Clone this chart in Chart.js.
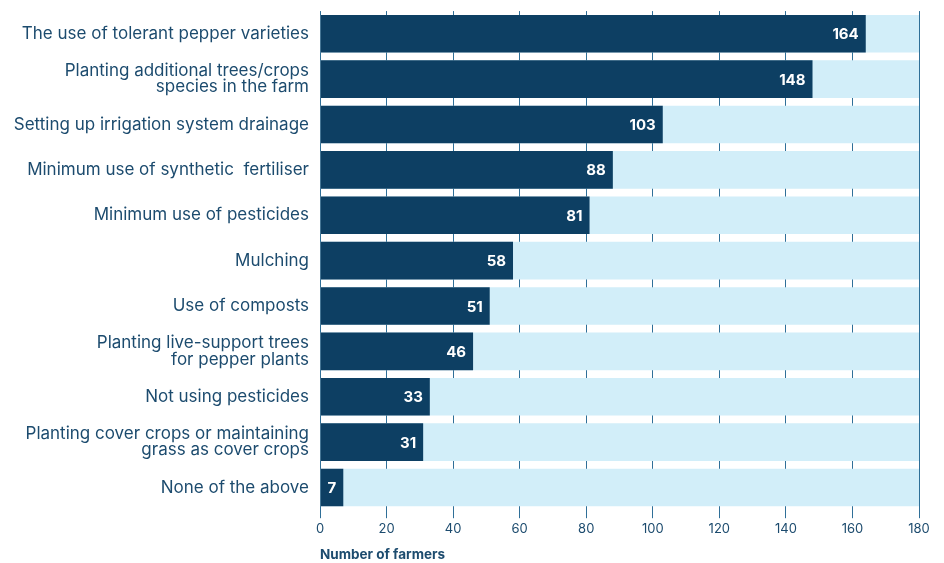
<!DOCTYPE html>
<html><head><meta charset="utf-8">
<script src="https://cdn.jsdelivr.net/npm/chart.js@4.4.1/dist/chart.umd.min.js"></script>
<style>html,body{margin:0;padding:0;background:#fff}#wrap{width:944px;height:563px}</style>
</head><body><div id="wrap"><canvas id="c"></canvas></div>
<script>
const categories = [
  "The use of tolerant pepper varieties",
  ["Planting additional trees/crops","species in the farm"],
  "Setting up irrigation system drainage",
  "Minimum use of synthetic  fertiliser",
  "Minimum use of pesticides",
  "Mulching",
  "Use of composts",
  ["Planting live-support trees","for pepper plants"],
  "Not using pesticides",
  ["Planting cover crops or maintaining","grass as cover crops"],
  "None of the above"
];
const farmers = [164, 148, 103, 88, 81, 58, 51, 46, 33, 31, 7];
const fullScale = [180, 180, 180, 180, 180, 180, 180, 180, 180, 180, 180];
const xTicks = [0, 20, 40, 60, 80, 100, 120, 140, 160, 180];

const textColor = '#1c4b6e';
const valueLabels = {
  id: 'valueLabels',
  afterDatasetsDraw(chart) {
    const ctx = chart.ctx;
    const meta = chart.getDatasetMeta(0);
    ctx.save();
    ctx.font = 'bold 15px Inter, "Noto Sans", sans-serif';
    ctx.fillStyle = '#ffffff';
    ctx.textAlign = 'right';
    ctx.textBaseline = 'middle';
    meta.data.forEach((el, i) => {
      ctx.fillText(String(farmers[i]), el.x - 7, el.y + 1);
    });
    ctx.restore();
  }
};

new Chart(document.getElementById('c'), {
  type: 'bar',
  data: {
    labels: categories,
    datasets: [
      { data: farmers, backgroundColor: '#0d3f63', order: 0, grouped: false, categoryPercentage: 0.83, barPercentage: 1 },
      { data: fullScale, backgroundColor: '#d2eef9', order: 1, grouped: false, categoryPercentage: 0.83, barPercentage: 1 }
    ]
  },
  options: {
    indexAxis: 'y',
    responsive: true,
    maintainAspectRatio: false,
    animation: false,
    layout: { padding: { top: 0, right: 25, bottom: 0, left: 0 } },
    plugins: { legend: { display: false }, tooltip: { enabled: false } },
    scales: {
      x: {
        min: 0, max: 180,
        afterBuildTicks: s => { s.ticks = xTicks.map(v => ({ value: v })); },
        grid: { color: '#2f6f98', lineWidth: 1, tickLength: 8, drawOnChartArea: true },
        border: { display: false },
        ticks: { color: textColor, font: { family: 'Inter, "Noto Sans", sans-serif', size: 13 }, padding: 3 },
        title: { display: true, text: 'Number of farmers', align: 'start', color: textColor,
                 font: { family: 'Inter, "Noto Sans", sans-serif', size: 13.5, weight: 'bold' }, padding: { top: 7, bottom: 0 } }
      },
      y: {
        afterFit: s => { s.width = 320; },
        grid: { display: false },
        border: { display: false },
        ticks: { color: textColor, font: { family: 'Inter, "Noto Sans", sans-serif', size: 17, lineHeight: 0.95 }, padding: 3 }
      }
    }
  },
  plugins: [valueLabels]
});
</script></body></html>
